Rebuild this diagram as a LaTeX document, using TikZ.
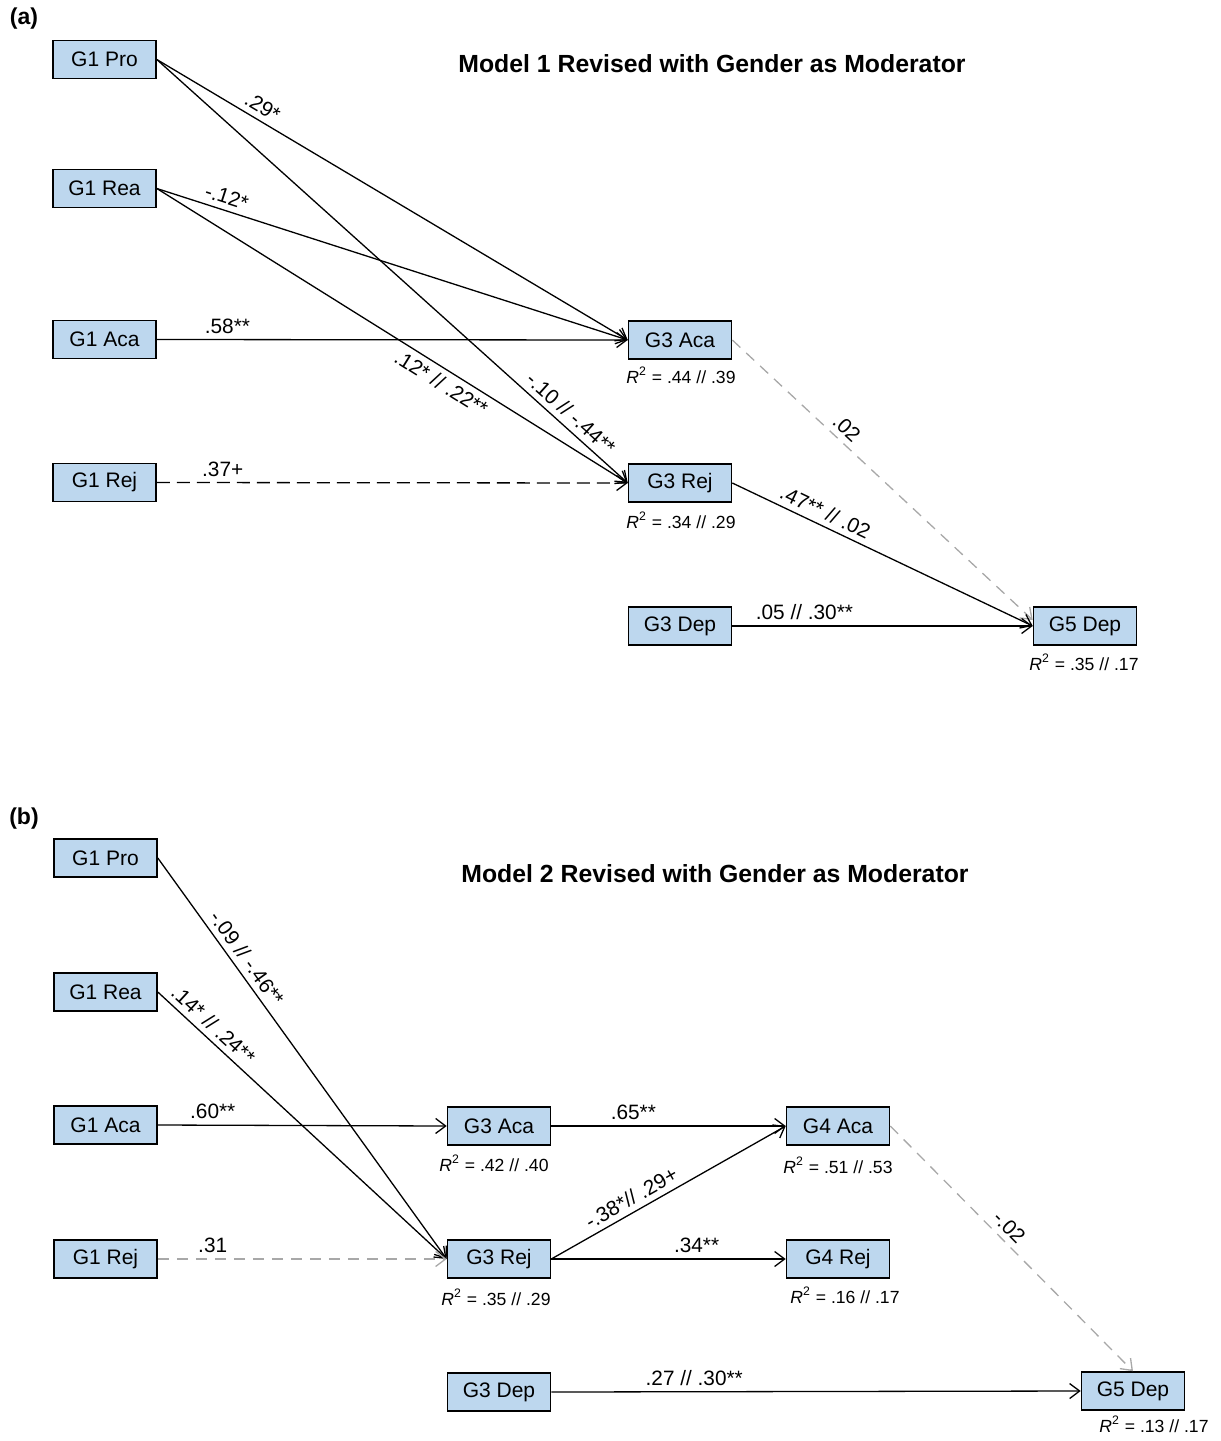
\documentclass[tikz,border=0pt]{standalone}
\usepackage{fontspec}
\setmainfont{Liberation Sans}
\usetikzlibrary{arrows.meta,calc}
\definecolor{boxfill}{RGB}{189,215,238}
\definecolor{pathgray}{RGB}{168,168,168}

\tikzset{
  var/.style={draw=black, line width=0.8pt, fill=boxfill, minimum width=51.5pt,
    minimum height=19pt, inner sep=0pt, font=\fontsize{10.5}{12}\selectfont},
  effect/.style={line width=0.65pt, -{Straight Barb[length=5pt,width=7.5pt]}},
  nsdash/.style={dash pattern=on 6.5pt off 3.5pt},
  nsgray/.style={draw=pathgray, dash pattern=on 5.5pt off 4pt},
  coef/.style={font=\fontsize{10.4}{12}\selectfont, sloped, above, inner sep=2.8pt},
  coefb/.style={font=\fontsize{10.4}{12}\selectfont, sloped, below, inner sep=2.8pt},
  rsq/.style={font=\fontsize{8.8}{10}\selectfont, inner sep=0pt},
  heading/.style={font=\bfseries\fontsize{12.4}{14}\selectfont, inner sep=0pt},
  panel/.style={font=\bfseries\fontsize{11.5}{13}\selectfont, inner sep=0pt}
}
\newcommand{\rsquare}[2]{\textit{R}\textsuperscript{2} = #1 // #2}

\begin{document}
\begin{tikzpicture}[x=0.5pt, y=-0.5pt]
\useasboundingbox (0,0) rectangle (1221,1441);

% ---------------- Panel (a): Model 1 ----------------
\node[panel] (pa) at (24,19) {(a)};
\node[heading] (ta) at (712,64) {Model 1 Revised with Gender as Moderator};

\node[var] (a1pro) at (104.5,59.5) {G1 Pro};
\node[var] (a1rea) at (104.5,188.5) {G1 Rea};
\node[var] (a1aca) at (104.5,339.5) {G1 Aca};
\node[var] (a1rej) at (104.5,482.5) {G1 Rej};
\node[var] (a3aca) at (680,340) {G3 Aca};
\node[var] (a3rej) at (680,483) {G3 Rej};
\node[var] (a3dep) at (680,626) {G3 Dep};
\node[var] (a5dep) at (1085,626) {G5 Dep};

\node[rsq] (ra3aca) at (681,375) {\rsquare{.44}{.39}};
\node[rsq] (ra3rej) at (681,520) {\rsquare{.34}{.29}};
\node[rsq] (ra5dep) at (1084,662) {\rsquare{.35}{.17}};

\draw[effect] (a1pro.east) -- node[coef, pos=0.21] {.29*} (a3aca.west);
\draw[effect] (a1pro.east) -- node[coef, pos=0.86] {-.10 // -.44**} (a3rej.west);
\draw[effect] (a1rea.east) -- node[coef, pos=0.14] {-.12*} (a3aca.west);
\draw[effect] (a1rea.east) -- node[coefb, pos=0.62] {.12* // .22**} (a3rej.west);
\draw[effect] (a1aca.east) -- node[coef, pos=0.15] {.58**} (a3aca.west);
\draw[effect, nsdash] (a1rej.east) -- node[coef, pos=0.14] {.37+} (a3rej.west);
\draw[effect, nsgray] (a3aca.east) -- node[coef, pos=0.35, text=black] {.02} ([yshift=3pt]a5dep.west);
\draw[effect] (a3rej.east) -- node[coef, pos=0.29] {.47** // .02} (a5dep.west);
\draw[effect] (a3dep.east) -- node[coef, pos=0.24] {.05 // .30**} (a5dep.west);

% ---------------- Panel (b): Model 2 ----------------
\node[panel] (pb) at (24,819) {(b)};
\node[heading] (tb) at (715,874) {Model 2 Revised with Gender as Moderator};

\node[var] (b1pro) at (105.5,858) {G1 Pro};
\node[var] (b1rea) at (105.5,992) {G1 Rea};
\node[var] (b1aca) at (105.5,1125) {G1 Aca};
\node[var] (b1rej) at (105.5,1259) {G1 Rej};
\node[var] (b3aca) at (499,1126) {G3 Aca};
\node[var] (b3rej) at (499,1259) {G3 Rej};
\node[var] (b3dep) at (499,1392) {G3 Dep};
\node[var] (b4aca) at (838,1126) {G4 Aca};
\node[var] (b4rej) at (838,1259) {G4 Rej};
\node[var] (b5dep) at (1133,1391) {G5 Dep};

\node[rsq] (rb3aca) at (494,1163) {\rsquare{.42}{.40}};
\node[rsq] (rb3rej) at (496,1297) {\rsquare{.35}{.29}};
\node[rsq] (rb4aca) at (838,1165) {\rsquare{.51}{.53}};
\node[rsq] (rb4rej) at (845,1295) {\rsquare{.16}{.17}};
\node[rsq] (rb5dep) at (1154,1424) {\rsquare{.13}{.17}};

\draw[effect] (b1pro.east) -- node[coef, pos=0.27] {-.09 // -.46**} (b3rej.west);
\draw[effect] (b1rea.east) -- node[coef, pos=0.16] {.14* // .24**} (b3rej.west);
\draw[effect] (b1aca.east) -- node[coef, pos=0.19] {.60**} (b3aca.west);
\draw[effect, nsgray] (b1rej.east) -- node[coef, pos=0.19, text=black] {.31} (b3rej.west);
\draw[effect] (b3aca.east) -- node[coef, pos=0.35] {.65**} (b4aca.west);
\draw[effect] (b3rej.east) -- node[coef, pos=0.37] {-.38*// .29+} (b4aca.west);
\draw[effect] (b3rej.east) -- node[coef, pos=0.62] {.34**} (b4rej.west);
\draw[effect, nsgray] (b4aca.east) -- node[coef, pos=0.45, text=black] {-.02} (b5dep.north);
\draw[effect] (b3dep.east) -- node[coef, pos=0.27] {.27 // .30**} (b5dep.west);
\end{tikzpicture}
\end{document}
